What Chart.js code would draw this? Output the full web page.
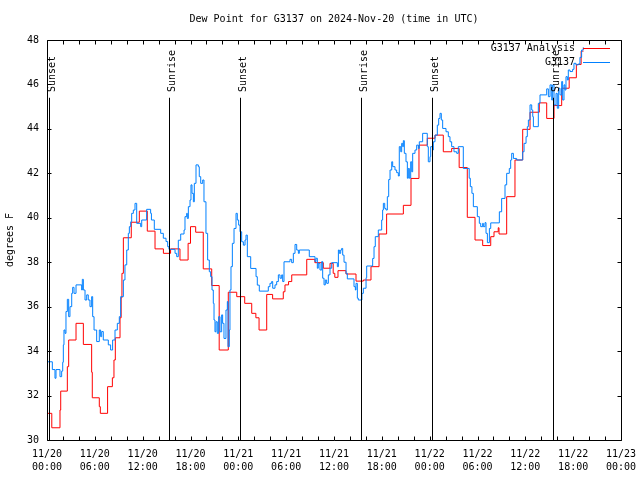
<!DOCTYPE html>
<html>
<head>
<meta charset="utf-8">
<script src="https://cdn.jsdelivr.net/npm/chart.js@4.4.1/dist/chart.umd.min.js"></script>
<style>
html,body{margin:0;padding:0;background:#fff;}
canvas{display:block;}
</style>
</head>
<body>
<canvas id="c" width="640" height="480"></canvas>
<script>
// ---- Data (hours since 11/20 00:00 UTC, degrees F) ----
const chartTitle = 'Dew Point for G3137 on 2024-Nov-20 (time in UTC)';
const yAxisLabel = 'degrees F';
const seriesNames = ['G3137 Analysis', 'G3137'];

const redTimes = [0, 0.6, 1.63, 1.72, 2.55, 2.72, 3.64, 4.56, 5.6, 5.68, 6.56, 6.69, 7.6, 8.2, 8.4, 8.57, 9.16, 9.3, 9.4, 9.58, 10.57, 11.58, 12.58, 13.55, 14.6, 15.5, 16.68, 17.7, 18.0, 18.65, 19.6, 20.66, 21.6, 22.74, 23.8, 24.8, 25.68, 26.2, 26.6, 27.56, 28.3, 29.64, 29.85, 30.3, 30.7, 32.58, 33.6, 34.66, 35.5, 35.9, 36.1, 36.5, 37.5, 38.76, 39.68, 40.64, 41.65, 42.6, 44.7, 45.66, 46.66, 47.7, 48.67, 49.71, 50.76, 51.7, 52.72, 53.69, 54.65, 55.66, 56.07, 56.6, 56.7, 57.66, 58.7, 59.67, 60.59, 61.75, 62.68, 63.6, 64.56, 65.5, 66.4, 67.0, 67.3];
const redValues = [31.2, 30.55, 31.35, 32.2, 33.3, 34.5, 35.25, 34.3, 33.05, 31.9, 31.5, 31.2, 32.4, 32.8, 33.6, 34.6, 35.5, 36.4, 37.5, 39.1, 39.8, 40.3, 39.4, 38.6, 38.4, 38.6, 38.1, 38.85, 39.6, 39.35, 37.7, 36.95, 34.05, 36.65, 36.45, 36.15, 35.7, 35.5, 34.95, 36.55, 36.35, 36.67, 36.98, 37.13, 37.43, 38.13, 37.98, 37.73, 37.95, 37.5, 37.32, 37.62, 37.47, 37.15, 37.2, 37.8, 39.27, 40.17, 40.56, 41.77, 43.27, 43.58, 43.72, 42.97, 43.12, 42.26, 40.02, 39.0, 38.75, 39.15, 39.37, 39.55, 39.27, 40.95, 42.6, 43.98, 44.75, 45.17, 44.47, 45.05, 45.83, 46.3, 46.9, 47.5, 47.5];

const blueTimes = [0, 0.67, 1.0, 1.13, 1.63, 1.84, 1.97, 2.05, 2.13, 2.26, 2.38, 2.55, 2.72, 2.88, 3.1, 3.22, 3.39, 3.64, 4.35, 4.43, 4.56, 4.77, 4.98, 5.18, 5.39, 5.6, 5.73, 5.9, 6.23, 6.56, 6.73, 6.86, 7.06, 7.69, 7.98, 8.23, 8.53, 8.82, 9.07, 9.24, 9.58, 9.78, 10.0, 10.2, 10.33, 10.5, 10.62, 10.83, 11.04, 11.25, 11.75, 11.88, 12.5, 13.0, 13.1, 13.46, 14.26, 14.59, 14.93, 15.14, 15.3, 16.06, 16.27, 16.47, 16.77, 17.19, 17.31, 17.52, 17.6, 17.73, 17.94, 18.06, 18.19, 18.36, 18.48, 18.69, 18.98, 19.1, 19.28, 19.53, 19.69, 19.94, 20.15, 20.36, 20.53, 20.7, 20.86, 20.95, 21.07, 21.2, 21.36, 21.53, 21.7, 21.91, 22.03, 22.2, 22.45, 22.62, 22.7, 22.87, 22.95, 23.08, 23.25, 23.46, 23.71, 23.87, 24.04, 24.21, 24.42, 24.63, 24.84, 24.96, 25.13, 25.55, 26.22, 26.38, 26.63, 27.76, 27.97, 28.18, 28.31, 28.6, 28.81, 29.02, 29.23, 29.44, 29.56, 29.73, 30.48, 30.69, 30.9, 31.11, 31.32, 31.53, 31.65, 32.9, 33.62, 33.74, 33.91, 34.03, 34.24, 34.46, 34.58, 34.75, 34.91, 35.08, 35.29, 35.5, 35.71, 36.42, 36.55, 36.67, 36.84, 36.96, 37.09, 37.26, 37.51, 37.67, 38.51, 38.68, 38.76, 38.93, 39.05, 39.5, 39.68, 40.02, 40.1, 40.85, 41.02, 41.18, 41.56, 41.98, 42.1, 42.19, 42.36, 42.52, 42.69, 42.86, 43.03, 43.24, 43.36, 43.65, 43.86, 44.07, 44.19, 44.37, 44.49, 44.62, 44.7, 44.82, 45.03, 45.2, 45.32, 45.45, 45.62, 45.75, 45.87, 46.16, 46.37, 46.58, 46.7, 47.12, 47.7, 47.83, 48.04, 48.13, 48.38, 48.46, 48.67, 48.96, 49.13, 49.3, 49.46, 49.63, 50.05, 50.34, 50.55, 50.76, 51.05, 51.39, 51.59, 52.22, 52.96, 53.1, 53.3, 53.48, 53.98, 54.23, 54.4, 54.65, 54.73, 54.94, 55.07, 55.24, 55.49, 55.66, 56.74, 57.03, 57.45, 57.66, 57.99, 58.16, 58.29, 58.5, 58.91, 59.67, 59.84, 60.09, 60.25, 60.38, 60.59, 60.8, 60.93, 61.01, 61.63, 61.84, 62.68, 62.89, 63.1, 63.31, 63.43, 63.6, 63.85, 64.01, 64.18, 64.35, 64.56, 64.68, 64.85, 64.97, 65.1, 65.27, 65.39, 65.6, 65.93, 66.1, 66.35, 66.64, 66.85, 67.06, 67.27];
const blueValues = [33.52, 33.17, 32.78, 33.17, 32.85, 33.1, 33.5, 34.28, 34.95, 34.8, 35.78, 36.33, 35.55, 36.0, 36.6, 36.87, 36.6, 36.98, 36.75, 37.23, 36.75, 36.3, 36.53, 36.3, 36.0, 36.45, 35.55, 34.95, 34.43, 34.95, 34.65, 34.88, 34.5, 34.28, 34.05, 34.5, 34.95, 35.25, 35.55, 36.45, 37.2, 37.88, 38.55, 39.3, 39.6, 39.82, 40.2, 40.35, 40.65, 39.75, 39.6, 39.9, 40.38, 40.2, 39.9, 39.48, 39.3, 39.08, 38.93, 38.7, 38.58, 38.4, 38.25, 38.99, 39.27, 39.45, 40.05, 40.2, 39.97, 40.5, 40.8, 41.48, 41.1, 40.72, 41.55, 42.38, 42.3, 41.85, 41.55, 41.7, 40.72, 39.3, 38.1, 37.57, 37.35, 36.75, 36.15, 35.4, 34.87, 35.32, 34.8, 35.55, 34.87, 35.63, 35.25, 34.57, 35.85, 36.23, 34.2, 34.95, 36.75, 37.8, 38.85, 39.52, 40.2, 39.9, 39.67, 39.37, 38.92, 38.77, 39.0, 39.22, 38.25, 37.72, 37.35, 36.97, 36.7, 36.9, 37.05, 37.13, 36.83, 36.98, 37.13, 37.43, 37.28, 37.43, 37.13, 38.02, 38.13, 37.98, 38.4, 38.8, 38.55, 38.4, 38.55, 38.25, 38.03, 38.18, 37.73, 37.95, 37.65, 38.03, 37.28, 36.98, 37.2, 37.05, 37.43, 37.73, 37.98, 37.8, 38.55, 38.4, 38.55, 38.62, 38.32, 38.0, 37.5, 37.25, 36.9, 36.75, 37.05, 36.38, 36.3, 36.6, 36.83, 37.3, 37.83, 38.17, 38.7, 39.15, 39.45, 39.9, 40.35, 40.65, 40.42, 40.35, 40.95, 41.72, 42.15, 42.52, 42.3, 42.15, 42.03, 41.88, 43.2, 42.97, 43.35, 43.2, 43.47, 42.9, 42.52, 41.78, 42.22, 41.78, 42.52, 42.07, 42.9, 43.05, 43.27, 43.12, 43.42, 43.8, 43.2, 42.52, 42.75, 43.2, 43.05, 43.42, 43.72, 44.17, 44.47, 44.7, 44.4, 44.02, 43.87, 43.65, 43.42, 43.2, 42.97, 42.9, 43.2, 42.22, 41.78, 41.4, 41.1, 40.5, 40.05, 39.75, 39.6, 39.75, 39.6, 39.78, 39.3, 38.88, 39.52, 39.77, 40.27, 40.87, 41.48, 42.0, 42.22, 42.6, 42.9, 42.67, 42.6, 42.97, 43.35, 43.65, 44.1, 44.4, 45.08, 44.85, 44.55, 44.1, 45.15, 45.53, 45.8, 45.45, 45.98, 45.3, 45.98, 45.08, 45.6, 44.93, 45.83, 45.53, 46.13, 45.3, 45.98, 45.75, 46.35, 46.2, 46.65, 46.58, 46.68, 46.95, 46.88, 46.92, 47.22, 47.55, 47.67];

// Sunrise / sunset markers
const eventHours = [0.25, 15.3, 24.2, 39.4, 48.3, 63.5];
const eventLabels = ['Sunset', 'Sunrise', 'Sunset', 'Sunrise', 'Sunset', 'Sunrise'];

// Axis ticks and labels
const xTickHours = [0, 2, 4, 6, 8, 10, 12, 14, 16, 18, 20, 22, 24, 26, 28, 30, 32, 34, 36, 38, 40, 42, 44, 46, 48, 50, 52, 54, 56, 58, 60, 62, 64, 66, 68, 70, 72];
const xLabelHours = [0, 6, 12, 18, 24, 30, 36, 42, 48, 54, 60, 66, 72];
const xLabelDays = ['11/20', '11/20', '11/20', '11/20', '11/21', '11/21', '11/21', '11/21', '11/22', '11/22', '11/22', '11/22', '11/23'];
const xLabelTimes = ['00:00', '06:00', '12:00', '18:00', '00:00', '06:00', '12:00', '18:00', '00:00', '06:00', '12:00', '18:00', '00:00'];
const yTicks = [30, 32, 34, 36, 38, 40, 42, 44, 46, 48];

// ---- Chart ----
const FONT_FAMILY = "'DejaVu Sans Mono', 'Liberation Mono', monospace";
const FONT = '10px ' + FONT_FAMILY;
const RED = '#ff0000';
const BLUE = '#0080ff';

const toPoints = (t, v) => t.map((h, i) => ({x: h, y: v[i]}));

const decor = {
  id: 'decor',
  afterDatasetsDraw(chart) {
    const {ctx, chartArea: a, scales: {x, y}} = chart;
    const L = Math.round(a.left) + 0.5, R = Math.round(a.right) + 0.5;
    const T = Math.round(a.top) + 0.5, B = Math.round(a.bottom) + 0.5;
    ctx.save();
    ctx.strokeStyle = '#000';
    ctx.fillStyle = '#000';
    ctx.lineWidth = 1;
    ctx.font = FONT;

    // event lines + labels
    const lineTop = y.getPixelForValue(45.4);
    const labelBase = y.getPixelForValue(45.66);
    eventHours.forEach((h, i) => {
      const px = Math.round(x.getPixelForValue(h)) + 0.5;
      ctx.beginPath();
      ctx.moveTo(px, lineTop);
      ctx.lineTo(px, B);
      ctx.stroke();
      ctx.save();
      ctx.translate(px + 2.5, labelBase);
      ctx.rotate(-Math.PI / 2);
      ctx.textAlign = 'left';
      ctx.textBaseline = 'middle';
      ctx.fillText(eventLabels[i], 0, 0);
      ctx.restore();
    });

    // frame
    ctx.beginPath();
    ctx.rect(L, T, R - L, B - T);
    ctx.stroke();

    // inward ticks
    const TL = 4;
    ctx.beginPath();
    x.ticks.forEach(t => {
      const px = Math.round(x.getPixelForValue(t.value)) + 0.5;
      ctx.moveTo(px, B); ctx.lineTo(px, B - TL);
      ctx.moveTo(px, T); ctx.lineTo(px, T + TL);
    });
    y.ticks.forEach(t => {
      const py = Math.round(y.getPixelForValue(t.value)) + 0.5;
      ctx.moveTo(L, py); ctx.lineTo(L + TL, py);
      ctx.moveTo(R, py); ctx.lineTo(R - TL, py);
    });
    ctx.stroke();

    // legend
    const legendColors = [RED, BLUE];
    const legendY = [48.5, 62.5];
    ctx.textAlign = 'right';
    ctx.textBaseline = 'middle';
    seriesNames.forEach((name, i) => {
      ctx.fillStyle = '#000';
      ctx.fillText(name, 575, legendY[i]);
      ctx.strokeStyle = legendColors[i];
      ctx.beginPath();
      ctx.moveTo(583, legendY[i]);
      ctx.lineTo(610, legendY[i]);
      ctx.stroke();
    });

    // title
    ctx.fillStyle = '#000';
    ctx.textAlign = 'center';
    ctx.textBaseline = 'middle';
    ctx.fillText(chartTitle, (a.left + a.right) / 2, 19);

    // y axis label
    ctx.save();
    ctx.translate(10, (a.top + a.bottom) / 2);
    ctx.rotate(-Math.PI / 2);
    ctx.fillText(yAxisLabel, 0, 0);
    ctx.restore();

    ctx.restore();
  }
};

new Chart(document.getElementById('c'), {
  type: 'line',
  data: {
    datasets: [
      {
        label: seriesNames[1],
        data: toPoints(blueTimes, blueValues),
        borderColor: BLUE,
        borderWidth: 1,
        pointRadius: 0,
        stepped: 'before',
        fill: false,
        order: 0
      },
      {
        label: seriesNames[0],
        data: toPoints(redTimes, redValues),
        borderColor: RED,
        borderWidth: 1,
        pointRadius: 0,
        stepped: 'before',
        fill: false,
        order: 1
      }
    ]
  },
  options: {
    responsive: false,
    animation: false,
    devicePixelRatio: 1,
    layout: {padding: {left: 0, right: 19, top: 40, bottom: 0}},
    plugins: {
      legend: {display: false},
      title: {display: false},
      tooltip: {enabled: false}
    },
    scales: {
      x: {
        type: 'linear',
        min: 0,
        max: 72,
        grid: {display: false, drawTicks: false},
        border: {display: false},
        afterBuildTicks: s => { s.ticks = xTickHours.map(v => ({value: v})); },
        afterFit: s => { s.height = 40; s.paddingLeft = 0; s.paddingRight = 0; },
        ticks: {
          autoSkip: false,
          maxRotation: 0,
          minRotation: 0,
          padding: 8,
          color: '#000',
          font: {family: FONT_FAMILY, size: 10, lineHeight: 1.3},
          callback: v => {
            const i = xLabelHours.indexOf(v);
            return i >= 0 ? [xLabelDays[i], xLabelTimes[i]] : '';
          }
        }
      },
      y: {
        type: 'linear',
        min: 30,
        max: 48,
        grid: {display: false, drawTicks: false},
        border: {display: false},
        afterBuildTicks: s => { s.ticks = yTicks.map(v => ({value: v})); },
        afterFit: s => { s.width = 47; s.paddingTop = 0; s.paddingBottom = 0; },
        ticks: {
          padding: 8,
          color: '#000',
          font: {family: FONT_FAMILY, size: 10},
          callback: v => String(v)
        }
      }
    }
  },
  plugins: [decor]
});
</script>
</body>
</html>
